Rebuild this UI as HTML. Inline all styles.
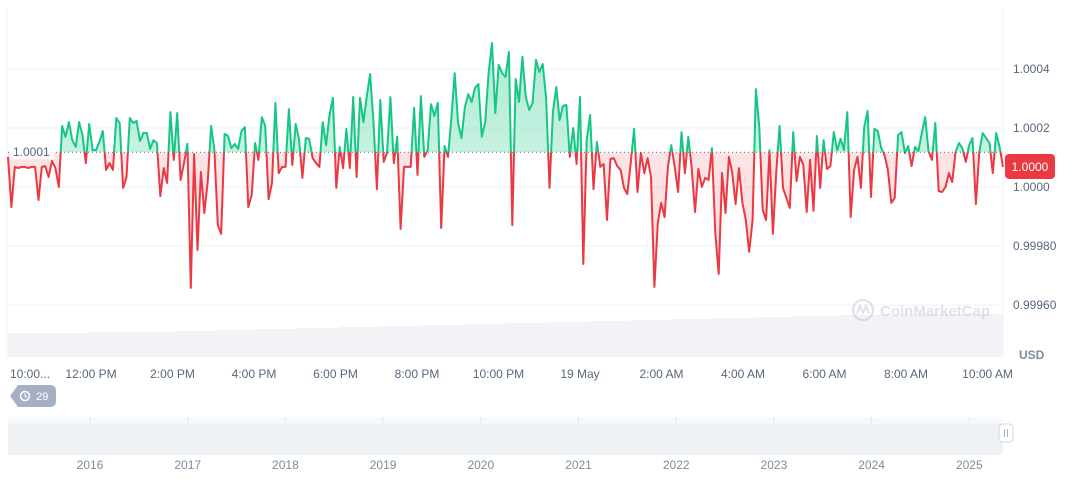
<!DOCTYPE html>
<html><head><meta charset="utf-8"><style>
body{margin:0;background:#fff;font-family:"Liberation Sans",sans-serif;}
svg text{font-family:"Liberation Sans",sans-serif;}
</style></head><body>
<svg id="chart" width="1072" height="477" viewBox="0 0 1072 477" xmlns="http://www.w3.org/2000/svg">
<defs>
<linearGradient id="gUp" x1="0" y1="0" x2="0" y2="1"><stop offset="0" stop-color="#16c784" stop-opacity="0.35"/><stop offset="1" stop-color="#16c784" stop-opacity="0.12"/></linearGradient>
<linearGradient id="gDn" x1="0" y1="0" x2="0" y2="1"><stop offset="0" stop-color="#ea3943" stop-opacity="0.08"/><stop offset="1" stop-color="#ea3943" stop-opacity="0.2"/></linearGradient>
<clipPath id="clipUp"><rect id="clipUpRect" x="0" y="0" width="1072" height="0"/></clipPath>
<clipPath id="clipDn"><rect id="clipDnRect" x="0" y="0" width="1072" height="477"/></clipPath>
</defs>
<g id="grid"></g>
<g id="volume"></g>
<g id="watermark" opacity="0.35">
<circle cx="863" cy="310" r="10" fill="none" stroke="#a6b0c3" stroke-width="2.2"/>
<path d="M857 314 L860 306 L863 313 L866 306 L869 314" fill="none" stroke="#a6b0c3" stroke-width="2"/>
<text x="880" y="316" font-size="15" font-weight="bold" fill="#a6b0c3">CoinMarketCap</text>
</g>
<g id="series"></g>
<g id="axes"></g>
<g id="nav"></g>
</svg>
<script>
// price deviation from 1.0000 in micro-USD, 5-minute samples
const deviation=[102,-68,68,64,68,68,64,68,68,-44,68,71,34,88,64,0,207,170,220,159,136,220,176,81,214,125,125,153,190,58,81,58,234,217,-3,34,234,217,224,156,183,183,129,159,149,-31,64,14,254,92,251,24,81,146,-342,112,-214,51,-88,17,207,125,-129,-159,180,173,132,146,129,190,203,-68,
-27,149,92,237,207,-41,14,285,47,68,68,264,75,214,159,31,166,163,98,81,68,220,142,244,302,-3,136,64,197,64,305,34,302,220,305,383,220,-7,295,85,115,305,81,170,-142,68,68,68,268,41,308,102,125,281,241,285,-139,139,102,234,386,217,166,271,315,288,336,349,170,220,386,488,251,414,386,373,458,
-129,366,288,441,305,261,285,431,390,417,302,-3,254,339,227,275,278,102,200,78,305,-261,159,244,-7,153,68,78,-112,95,98,71,58,-3,-24,81,197,-17,115,47,98,34,-339,-122,-54,-102,68,142,68,-17,186,47,170,68,-85,61,0,31,24,132,-156,-295,47,-88,102,47,-58,64,-54,-112,-220,-112,
332,203,-78,-112,125,-159,47,207,-3,-37,-71,186,20,102,75,-85,92,-81,173,-3,159,61,71,186,125,163,125,254,-102,58,102,-3,203,258,-34,197,190,132,108,58,-54,-37,176,186,115,139,71,136,122,183,237,122,92,217,-14,-17,0,47,17,119,149,132,85,142,166,-58,119,183,166,149,47,183,136,68];
const baselineDev=118;
const currentPrice="1.0000";
const yTicks=[1.0004,1.0002,1.0000,0.9998,0.9996];
const yTickLabels=["1.0004","1.0002","1.0000","0.99980","0.99960"];
const xTickHours=[0,2,4,6,8,10,12,14,16,18,20,22,24];
const xTickLabels=["10:00...","12:00 PM","2:00 PM","4:00 PM","6:00 PM","8:00 PM","10:00 PM","19 May","2:00 AM","4:00 AM","6:00 AM","8:00 AM","10:00 AM"];
const volumeHourly=[24,24,25,25,26,27,28,29,30,31,32,33,34,35,36,37,38,39,40,41,42,42,43,43];
const navYears=["2016","2017","2018","2019","2020","2021","2022","2023","2024","2025"];

const NS="http://www.w3.org/2000/svg";
function mk(tag,attrs,parent){const e=document.createElementNS(NS,tag);for(const k in attrs)e.setAttribute(k,attrs[k]);parent.appendChild(e);return e;}
const X0=8,X1=1003;
const xIdx=i=>X0+(X1-X0)*i/(deviation.length-1);
const xHour=h=>9.5+h*40.75;
const yPrice=p=>187-(p-1)*295000;
const yDev=d=>yPrice(1+d/1e6);
const grid=document.getElementById('grid');
yTicks.forEach((t,i)=>{
  const l=mk('line',{x1:X0,x2:X1,y1:yPrice(t),y2:yPrice(t),stroke:'#eff2f5','stroke-width':1},grid);
  
  
});
const bl=mk('line',{x1:X1,x2:X1,y1:8,y2:358,stroke:'#eff2f5'},grid);


const bl2=mk('line',{x1:X0-1,x2:X0-1,y1:8,y2:358,stroke:'#eff2f5'},grid);


// volume
const vol=document.getElementById('volume');
const vScale=v=>357-v*1.0;
const bw=(X1-X0)/volumeHourly.length;
volumeHourly.forEach((v,i)=>{
  const r=mk('rect',{x:X0+i*bw,y:vScale(v),width:bw+0.5,height:357-vScale(v),fill:'#f1f3f6'},vol);
  
  
});
// series
const ser=document.getElementById('series');
const by=yDev(baselineDev);
document.getElementById('clipUpRect').setAttribute('height',by);
document.getElementById('clipDnRect').setAttribute('y',by);
let pts=deviation.map((d,i)=>xIdx(i).toFixed(1)+','+yDev(d).toFixed(1));
const lineD='M'+pts.join(' L');
const areaD=lineD+' L'+X1+','+by+' L'+X0+','+by+' Z';
const au=mk('path',{d:areaD,fill:'url(#gUp)','clip-path':'url(#clipUp)'},ser);


const ad=mk('path',{d:areaD,fill:'url(#gDn)','clip-path':'url(#clipDn)'},ser);


const lu=mk('path',{d:lineD,fill:'none',stroke:'#16c784','stroke-width':2,'stroke-linejoin':'round','clip-path':'url(#clipUp)'},ser);


const ld=mk('path',{d:lineD,fill:'none',stroke:'#ea3943','stroke-width':2,'stroke-linejoin':'round','clip-path':'url(#clipDn)'},ser);


const base=mk('line',{x1:X0,x2:X1,y1:by,y2:by,stroke:'#58667e','stroke-width':1,'stroke-dasharray':'1 3'},ser);


const bbg=mk('rect',{x:10,y:by-9,width:44,height:16,fill:'#fff',opacity:0.85},ser);


const bt=mk('text',{x:13,y:by+4,'font-size':12,fill:'#58667e'},ser);bt.textContent='1.0001';


// axes
const ax=document.getElementById('axes');
yTicks.forEach((t,i)=>{
  const tx=mk('text',{x:1013,y:yPrice(t)+4,'font-size':12,fill:'#58667e'},ax);tx.textContent=yTickLabels[i];
  
  
});
const lastY=yDev(deviation[deviation.length-1]);
const tag=mk('rect',{x:1005,y:lastY-13,width:50,height:25,rx:4,fill:'#ea3943'},ax);


const tagt=mk('text',{x:1030,y:lastY+4,'font-size':12,fill:'#fff','text-anchor':'middle'},ax);tagt.textContent=currentPrice;


const usd=mk('text',{x:1019,y:359,'font-size':12,'font-weight':'bold',fill:'#808a9d'},ax);usd.textContent='USD';


xTickHours.forEach((h,i)=>{
  const x=i===0?10:xHour(h);
  const tx=mk('text',{x:x,y:378,'font-size':12,fill:'#58667e','text-anchor':i===0?'start':'middle'},ax);tx.textContent=xTickLabels[i];
  
  
});
// badge
const badge=mk('path',{d:'M18 385 L50 385 Q56 385 56 391 L56 401 Q56 407 50 407 L18 407 L10 396 Z',fill:'#a6b0c3'},ax);


const bc=mk('circle',{cx:25,cy:396,r:4.5,fill:'none',stroke:'#fff','stroke-width':1.5},ax);


const bct=mk('path',{d:'M25 393.5 L25 396 L27 397.5',fill:'none',stroke:'#fff','stroke-width':1.2},ax);


const bn=mk('text',{x:36,y:400,'font-size':11,fill:'#fff'},ax);bn.textContent='29';


// navigator
const nav=document.getElementById('nav');
const nb=mk('rect',{x:8,y:417,width:995,height:38,fill:'#f8f9fa'},nav);


const na=mk('rect',{x:8,y:424,width:995,height:31,fill:'#eff2f5'},nav);


navYears.forEach((y,i)=>{
  const x=90+i*97.7;
  const gl=mk('line',{x1:x,x2:x,y1:417,y2:424,stroke:'#e6e9ee'},nav);
  
  
  const tx=mk('text',{x:x,y:469,'font-size':12,fill:'#808a9d','text-anchor':'middle'},nav);tx.textContent=y;
  
  
});
const h=mk('rect',{x:999,y:424,width:14,height:18,rx:4,fill:'#fff',stroke:'#d0d5dd'},nav);


const hl=mk('path',{d:'M1004.5 429 V437 M1007.5 429 V437',stroke:'#a6b0c3'},nav);


</script>
</body></html>
